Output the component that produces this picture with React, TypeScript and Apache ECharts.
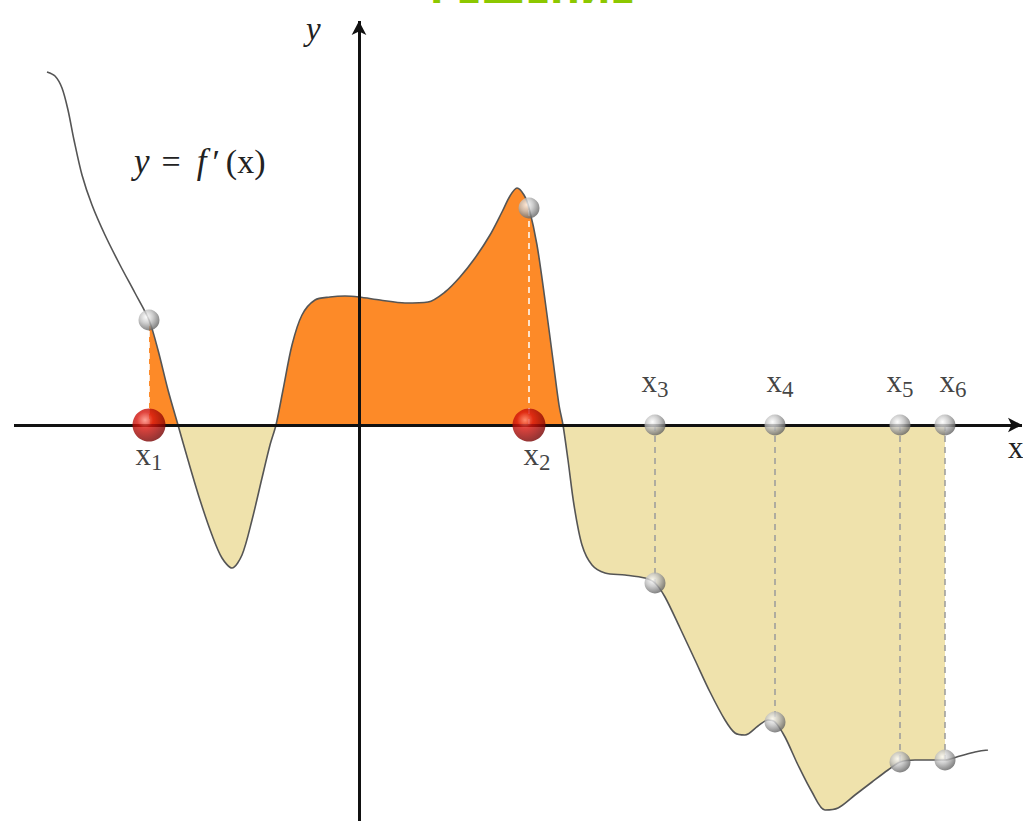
import React, { useEffect, useRef } from "react";
import * as echarts from "echarts";

// f'(x) curve (1 unit = 10 px)
const curveX = [-31.2, -30.4, -29.7, -29.1, -28.5, -27.7, -26.7, -25.4, -23.9, -22.4, -21.0, -20.1, -19.1, -18.1, -17.1, -15.9, -14.7, -13.7, -12.7, -11.7, -10.7, -9.7, -8.9, -8.3, -7.6, -6.7, -5.7, -4.4, -2.9, -1.4, 0, 2.1, 4.6, 6.9, 8.6, 10.1, 11.6, 13.1, 14.3, 15.1, 15.8, 16.5, 17.0, 17.8, 18.6, 19.4, 20.0, 20.4, 20.9, 21.5, 22.3, 23.3, 24.6, 26.6, 28.6, 29.6, 30.6, 32.1, 33.6, 35.1, 36.6, 37.6, 38.6, 39.9, 40.9, 41.6, 42.6, 43.9, 45.3, 46.6, 47.9, 49.6, 51.3, 52.9, 54.1, 55.6, 57.1, 58.6, 60.1, 61.6, 62.9];
const curveY = [35.3, 34.9, 33.7, 31.5, 28.5, 25.0, 22.0, 19.0, 16.0, 13.2, 10.5, 7.5, 3.5, 0, -3.5, -7.5, -11.0, -13.3, -14.3, -13.0, -9.5, -5.3, -2.0, 0, 3.5, 8.0, 11.0, 12.5, 12.8, 12.9, 12.8, 12.5, 12.2, 12.3, 13.3, 14.8, 16.7, 19.0, 21.3, 22.9, 23.7, 23.0, 21.7, 18.0, 12.5, 6.5, 2.0, 0, -3.5, -8.0, -12.0, -14.0, -14.8, -15.0, -15.3, -15.8, -17.2, -20.3, -23.5, -26.7, -29.5, -30.8, -31.0, -30.1, -29.5, -29.7, -31.2, -34.0, -36.7, -38.5, -38.3, -37.0, -35.7, -34.5, -33.7, -33.5, -33.5, -33.5, -33.1, -32.7, -32.5];

// shaded intervals [from, to] and sign
const segFrom = [-21.0, -18.1, -8.3, 20.4];
const segTo = [-18.1, -8.3, 20.4, 58.6];
const segPositive = [true, false, true, false];

// marked points x1..x6
const critNames = ["1", "2", "3", "4", "5", "6"];
const critX = [-21.0, 17.0, 29.6, 41.6, 54.1, 58.6];
const critY = [10.5, 21.7, -15.8, -29.7, -33.7, -33.5];
const critIsRoot = [true, true, false, false, false, false];

const X_MIN = -35.9, X_MAX = 66.4, Y_MIN = -39.6, Y_MAX = 42.5;

const ORANGE = "#FD8A28";
const BEIGE = "#EFE2AC";

const redBall = {
  type: "radial", x: 0.38, y: 0.35, r: 0.7,
  colorStops: [
    { offset: 0, color: "#ff8a7a" },
    { offset: 0.35, color: "#d8140c" },
    { offset: 1, color: "#700000" },
  ],
};
const greyBall = {
  type: "radial", x: 0.38, y: 0.35, r: 0.7,
  colorStops: [
    { offset: 0, color: "#ffffff" },
    { offset: 0.45, color: "#c0c0c0" },
    { offset: 1, color: "#5a5a5a" },
  ],
};

export default function App() {
  const ref = useRef<HTMLDivElement>(null);
  useEffect(() => {
    if (!ref.current) return;
    const chart = echarts.init(ref.current, null, { renderer: "svg" });
    const curve = curveX.map((x, i) => [x, curveY[i]]);

    const areaSeries = segFrom.map((a, k) => ({
      type: "line",
      data: curve.filter((p) => p[0] >= a - 1e-9 && p[0] <= segTo[k] + 1e-9),
      smooth: 0.3,
      symbol: "none",
      lineStyle: { width: 0 },
      areaStyle: { color: segPositive[k] ? ORANGE : BEIGE, opacity: 1 },
      z: 1,
      silent: true,
    }));

    const dropSeries = critX.map((x, i) => ({
      type: "line",
      data: [[x, 0], [x, critY[i]]],
      symbol: "none",
      lineStyle: {
        width: 1.5,
        type: [6, 5],
        color: critIsRoot[i] ? "#ffffff" : "#9a9a9a",
      },
      z: 2,
      silent: true,
    }));

    const axesSeries = {
      type: "line",
      data: [],
      z: 3,
      markLine: {
        silent: true,
        animation: false,
        symbol: ["none", "arrow"],
        symbolSize: [11, 14],
        label: { show: false },
        lineStyle: { color: "#111", width: 3, type: "solid" },
        data: [
          [{ coord: [-34.5, 0] }, { coord: [66.3, 0] }],
          [{ coord: [0, Y_MIN] }, { coord: [0, 40.4] }],
        ],
      },
    };

    const subLabel = (n: string) => "{a|x}{b|" + n + "}";
    const labelRich = {
      a: { fontSize: 31, fontFamily: "Liberation Serif", color: "#111", lineHeight: 34 },
      b: { fontSize: 23, fontFamily: "Liberation Serif", color: "#111", lineHeight: 34, padding: [16, 0, 0, 0] },
    };

    const onAxisData = critX.map((x, i) => ({
      value: [x, 0],
      symbolSize: critIsRoot[i] ? 33 : 21,
      itemStyle: { color: critIsRoot[i] ? redBall : greyBall },
      label: {
        show: true,
        formatter: subLabel(critNames[i]),
        position: critIsRoot[i] ? "bottom" : "top",
        distance: critIsRoot[i] ? -4 : 16,
        offset: i === 1 ? [8, 0] : i === 5 ? [8, 0] : i === 3 ? [5, 0] : [0, 0],
        rich: labelRich,
      },
    }));

    const onCurveData = critX.map((x, i) => [x, critY[i]]);

    chart.setOption({
      animation: false,
      backgroundColor: "#ffffff",
      grid: { left: 0, right: 0, top: 0, bottom: 0 },
      xAxis: {
        type: "value", min: X_MIN, max: X_MAX,
        axisLine: { show: false }, axisTick: { show: false },
        axisLabel: { show: false }, splitLine: { show: false },
      },
      yAxis: {
        type: "value", min: Y_MIN, max: Y_MAX,
        axisLine: { show: false }, axisTick: { show: false },
        axisLabel: { show: false }, splitLine: { show: false },
      },
      series: [
        ...areaSeries,
        ...dropSeries,
        axesSeries,
        {
          type: "line",
          data: curve,
          smooth: 0.3,
          symbol: "none",
          lineStyle: { color: "#555555", width: 1.6 },
          z: 4,
          silent: true,
        },
        {
          type: "scatter",
          data: onCurveData,
          symbolSize: 21,
          itemStyle: { color: greyBall },
          z: 5,
          silent: true,
        },
        {
          type: "scatter",
          data: onAxisData,
          z: 6,
          silent: true,
        },
      ],
      graphic: [
        {
          type: "text", left: 430, top: -28,
          style: { text: "РЕШЕНИЕ", font: "bold 36px 'DejaVu Sans'", fill: "#8cc800" },
          silent: true,
        },
        {
          type: "text", left: 306, top: 12,
          style: { text: "y", font: "italic 33px 'Liberation Serif'", fill: "#222" },
          silent: true,
        },
        {
          type: "text", left: 1008, top: 432,
          style: { text: "x", font: "31px 'Liberation Serif'", fill: "#222" },
          silent: true,
        },
        {
          type: "text", left: 134, top: 144,
          style: {
            text: "{iy|y}{eq|=}{if|f}{pr|′}{n|(x)}",
            rich: {
              iy: { font: "italic 35px 'Liberation Serif'", fill: "#222", padding: [0, 12, 0, 0] },
              eq: { font: "34px 'Liberation Serif'", fill: "#222", padding: [0, 16, 0, 0] },
              if: { font: "italic 35px 'Liberation Serif'", fill: "#222", padding: [0, 6, 0, 0] },
              pr: { font: "34px 'Liberation Serif'", fill: "#222", padding: [0, 6, 0, 0] },
              n: { font: "34px 'Liberation Serif'", fill: "#222" },
            },
          },
          silent: true,
        },
      ],
    });
    return () => chart.dispose();
  }, []);
  return (
    <div
      ref={ref}
      style={{ position: "fixed", left: 0, top: 0, width: 1023, height: 821, background: "#fff" }}
    />
  );
}
